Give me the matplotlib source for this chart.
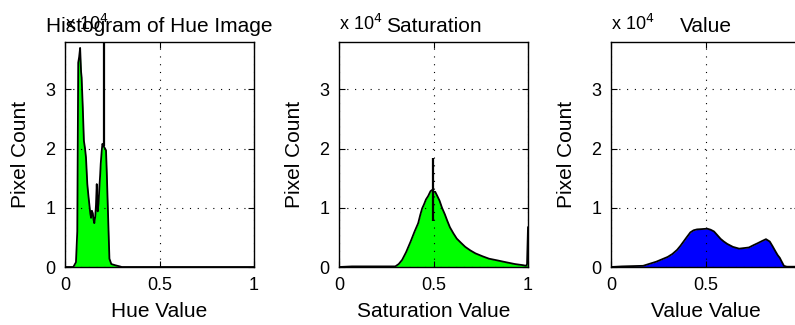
import numpy as np
import matplotlib
matplotlib.use("Agg")
import matplotlib.pyplot as plt

plt.rcParams['font.family'] = ['Liberation Sans', 'DejaVu Sans']

# histogram counts, in units of 10^4 pixels
hue_x = [0.0, 0.044, 0.058, 0.065, 0.07, 0.075, 0.08, 0.085, 0.088, 0.094, 0.10, 0.106, 0.111,
         0.118, 0.124, 0.129, 0.134, 0.138, 0.142, 0.147, 0.151, 0.155, 0.16, 0.164, 0.168,
         0.173, 0.178, 0.182, 0.186, 0.189, 0.194, 0.198, 0.203, 0.212, 0.217, 0.221, 0.224,
         0.23, 0.235, 0.245, 0.265, 0.29, 0.30, 1.0]
hue_y = [0, 0, 0.08, 0.6, 3.45, 3.55, 3.7, 3.3, 3.2, 2.7, 2.13, 2.0, 1.85,
         1.4, 1.2, 1.05, 0.9, 0.83, 0.95, 0.91, 0.8, 0.74, 0.85, 1.05, 1.4,
         0.94, 1.1, 1.35, 1.55, 1.74, 1.95, 2.08, 2.05, 2.0, 1.97, 1.6, 1.28,
         0.65, 0.14, 0.05, 0.03, 0.01, 0, 0]
hue_spike = (0.207, 2.05, 4.0)

sat_x = [0, 0.069, 0.298, 0.316, 0.334, 0.355, 0.379, 0.40, 0.419, 0.43, 0.44, 0.45, 0.46,
         0.472, 0.484, 0.492, 0.50, 0.509, 0.52, 0.532, 0.545, 0.56, 0.573, 0.587, 0.605,
         0.623, 0.645, 0.668, 0.695, 0.722, 0.76, 0.794, 0.84, 0.884, 0.93, 0.975, 0.99,
         0.995, 1.0]
sat_y = [0, 0.01, 0.01, 0.05, 0.12, 0.25, 0.43, 0.6, 0.74, 0.88, 0.99, 1.06, 1.14,
         1.2, 1.28, 1.3, 1.27, 1.27, 1.2, 1.12, 1.0, 0.89, 0.78, 0.67, 0.57,
         0.48, 0.41, 0.34, 0.28, 0.23, 0.18, 0.14, 0.11, 0.08, 0.05, 0.03, 0.02,
         0.05, 0.67]
sat_spike = (0.497, 0.77, 1.84)

val_x = [0, 0.058, 0.17, 0.2, 0.24, 0.27, 0.30, 0.325, 0.35, 0.368, 0.384, 0.40, 0.42,
         0.437, 0.455, 0.48, 0.509, 0.527, 0.545, 0.562, 0.58, 0.597, 0.615, 0.645, 0.678,
         0.705, 0.73, 0.755, 0.775, 0.8, 0.82, 0.84, 0.855, 0.87, 0.882, 0.893, 0.905,
         0.915, 0.93, 1.0]
val_y = [0, 0.01, 0.02, 0.05, 0.09, 0.13, 0.17, 0.22, 0.29, 0.36, 0.43, 0.5, 0.585,
         0.62, 0.635, 0.64, 0.647, 0.63, 0.6, 0.54, 0.475, 0.43, 0.39, 0.34, 0.31,
         0.32, 0.33, 0.37, 0.40, 0.44, 0.47, 0.43, 0.35, 0.265, 0.2, 0.155, 0.08,
         0.02, 0.005, 0.005]

titles = ["Histogram of Hue Image", "Saturation", "Value"]
xlabels = ["Hue Value", "Saturation Value", "Value Value"]
colors = [(0, 1, 0), (0, 1, 0), (0, 0, 1)]
xticks = [0, 0.5, 1]
xticklabels = ["0", "0.5", "1"]
yticks = [0, 1, 2, 3]

fig = plt.figure(figsize=(7.95, 3.25), dpi=100)
lefts = [65, 339, 611]
data = [(hue_x, hue_y, hue_spike), (sat_x, sat_y, sat_spike), (val_x, val_y, None)]

for i in range(3):
    ax = fig.add_axes([lefts[i] / 795, 58 / 325, 189 / 795, 225 / 325])
    x, y, spike = data[i]
    x = np.array(x)
    y = np.array(y)
    ax.fill_between(x, 0, y, color=colors[i], linewidth=0)
    ax.plot(x, y, color="black", linewidth=1.3)
    if spike is not None:
        ax.vlines(spike[0], spike[1], spike[2], color="black", linewidth=1.6)
    ax.set_xlim(0, 1)
    ax.set_ylim(0, 3.8)
    ax.set_xticks(xticks)
    ax.set_xticklabels(xticklabels)
    ax.set_yticks(yticks)
    ax.grid(True, color="black", linestyle=(0, (1, 6)), linewidth=0.8)
    ax.tick_params(direction="in", top=True, right=True, labelsize=13, length=4, pad=7)
    ax.set_xlabel(xlabels[i], fontsize=15, labelpad=6)
    ax.set_ylabel("Pixel Count", fontsize=15, labelpad=11)
    ax.set_title(titles[i], fontsize=15, pad=7)
    ax.text(0, 1.035, r"x 10$^4$", transform=ax.transAxes, fontsize=13, ha="left", va="bottom")
    for s in ax.spines.values():
        s.set_linewidth(1.0)

fig.savefig("out.png", dpi=100)
